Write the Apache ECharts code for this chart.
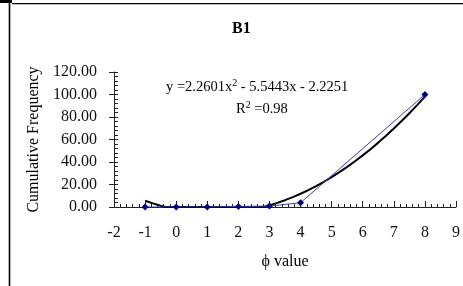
<!DOCTYPE html>
<html><head><meta charset="utf-8">
<style>html,body{margin:0;padding:0;background:#fff}#c{width:463px;height:286px}</style>
<script src="https://cdn.jsdelivr.net/npm/echarts@6/dist/echarts.min.js"></script>
</head><body><div id="c"></div>
<script>
// Observed data points (phi value, cumulative frequency)
const phiValues = [-1, 0, 1, 2, 3, 4, 8];
const cumFreq = [0, 0, 0, 0.5, 0.8, 3.8, 100];
// Polynomial trendline as drawn (clipped at 0)
const trendX = [-1, -0.75, -0.5, -0.35, 2.8, 2.9, 3, 3.25, 3.5, 3.75, 4, 4.25, 4.5, 4.75, 5, 5.25, 5.5, 5.75, 6, 6.25, 6.5, 6.75, 7, 7.25, 7.5, 7.75, 8];
const trendY = [5.58, 3.2, 1.11, 0, 0, 0.7, 1.48, 3.63, 6.06, 8.77, 11.76, 15.04, 18.59, 22.43, 26.56, 30.96, 35.65, 40.62, 45.87, 51.41, 57.23, 63.33, 69.71, 76.38, 83.32, 90.55, 98.07];
const xTicks = {min: -2, max: 9, interval: 1};
const yTicks = {min: 0, max: 120, interval: 20};
const titleText = 'B1';
const eqText = 'y =2.2601x{s|2} - 5.5443x - 2.2251';
const r2Text = 'R{s|2} =0.98';

const FONT = 'Liberation Serif';
const chart = echarts.init(document.getElementById('c'), null, {renderer: 'canvas'});
chart.setOption({
  animation: false,
  backgroundColor: '#fff',
  grid: {left: 114, right: 3, top: 72, bottom: 79, containLabel: false},
  xAxis: {
    type: 'value', min: xTicks.min, max: xTicks.max, interval: xTicks.interval,
    name: 'ϕ value', nameLocation: 'middle', nameGap: 47,
    nameTextStyle: {fontFamily: FONT, fontSize: 16, color: '#000'},
    axisLine: {onZero: false, lineStyle: {color: '#222', width: 1}},
    axisTick: {inside: true, length: 6, lineStyle: {color: '#222'}},
    minorTick: {show: true, splitNumber: 5, length: 3, lineStyle: {color: '#222'}},
    axisLabel: {fontFamily: FONT, fontSize: 16, color: '#111', margin: 18},
    splitLine: {show: false}
  },
  yAxis: [{
    type: 'value', min: yTicks.min, max: yTicks.max, interval: yTicks.interval, position: 'left',
    name: 'Cumulative Frequency', nameLocation: 'middle', nameGap: 69,
    nameTextStyle: {fontFamily: FONT, fontSize: 16, color: '#000'},
    axisLine: {show: true, onZero: false, lineStyle: {color: '#222', width: 1}},
    axisTick: {inside: true, length: 4, lineStyle: {color: '#222'}},
    minorTick: {show: true, splitNumber: 5, length: 4, lineStyle: {color: '#222'}},
    axisLabel: {fontFamily: FONT, fontSize: 16, color: '#111', margin: 17,
      formatter: v => v.toFixed(2)},
    splitLine: {show: false}
  }, {
    type: 'value', min: yTicks.min, max: yTicks.max, interval: yTicks.interval, position: 'left',
    axisLine: {show: false, onZero: false}, axisTick: {show: true, inside: false, length: 5, lineStyle: {color: '#222'}},
    axisLabel: {show: false}, splitLine: {show: false}
  }],
  series: [{
    type: 'line', name: 'data',
    data: phiValues.map((x, i) => [x, cumFreq[i]]),
    symbol: 'diamond', symbolSize: 7,
    itemStyle: {color: '#000080'},
    lineStyle: {color: '#3a3ab0', width: 1},
    z: 3
  }, {
    type: 'line', name: 'trend',
    data: trendX.map((x, i) => [x, trendY[i]]),
    showSymbol: false, smooth: false,
    lineStyle: {color: '#000', width: 2},
    z: 2
  }],
  graphic: [
    {type: 'rect', shape: {x: 0, y: 0, width: 12, height: 3}, style: {fill: '#000'}},
    {type: 'rect', shape: {x: 12, y: 3, width: 451, height: 1.3}, style: {fill: '#000'}},
    {type: 'rect', shape: {x: 8.7, y: 0, width: 1.6, height: 286}, style: {fill: '#000'}},
    {type: 'text', left: 232, top: 21, style: {text: titleText, font: 'bold 16px "' + FONT + '"', fill: '#000'}},
    {type: 'text', left: 166, top: 78, style: {text: eqText, fontFamily: FONT, fontSize: 14.5, fill: '#000',
      rich: {s: {fontFamily: FONT, fontSize: 10, verticalAlign: 'top', padding: [0, 0, 9, 0]}}}},
    {type: 'text', left: 236, top: 100, style: {text: r2Text, fontFamily: FONT, fontSize: 14.5, fill: '#000',
      rich: {s: {fontFamily: FONT, fontSize: 10, verticalAlign: 'top', padding: [0, 0, 9, 0]}}}}
  ]
});
</script></body></html>
